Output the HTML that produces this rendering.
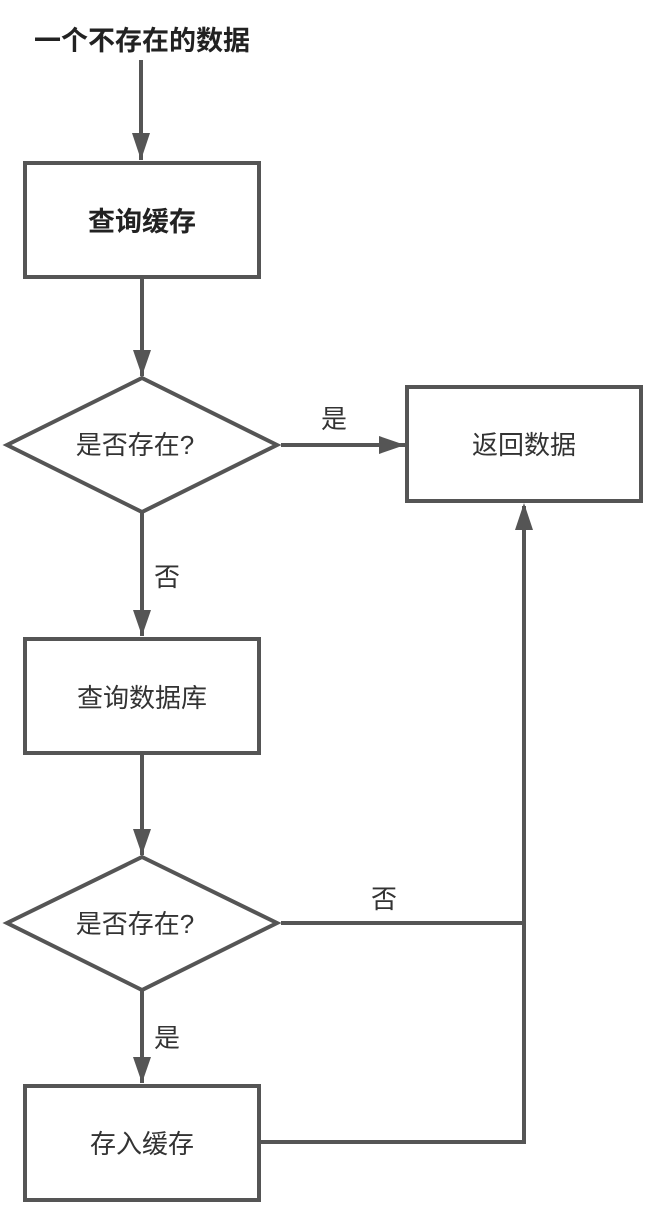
<!DOCTYPE html>
<html><head><meta charset="utf-8"><style>
html,body{margin:0;padding:0;background:#fff;}
svg text{font-family:"Liberation Sans","Noto Sans CJK SC",sans-serif;fill:#333;}
</style></head><body>
<svg width="651" height="1209" viewBox="0 0 651 1209" xmlns="http://www.w3.org/2000/svg">
<g stroke="#555" stroke-width="4" fill="none">
<line x1="141" y1="60" x2="141" y2="160"/>
<path d="M132,133 L150,133 L141,160 Z" fill="#555" stroke="none"/>
<rect x="25" y="163" width="234" height="114"/>
<line x1="142" y1="277" x2="142" y2="376"/>
<path d="M133,350 L151,350 L142,376 Z" fill="#555" stroke="none"/>
<polygon points="142,378 277,445 142,512 7,445"/>
<line x1="281" y1="445" x2="405" y2="445"/>
<path d="M379,436 L379,454 L405,445 Z" fill="#555" stroke="none"/>
<rect x="407" y="387" width="234" height="114"/>
<line x1="142" y1="512" x2="142" y2="636"/>
<path d="M133,610 L151,610 L142,636 Z" fill="#555" stroke="none"/>
<rect x="25" y="639" width="234" height="114"/>
<line x1="142" y1="753" x2="142" y2="855"/>
<path d="M133,829 L151,829 L142,855 Z" fill="#555" stroke="none"/>
<polygon points="142,857 277,923 142,990 7,923"/>
<line x1="281" y1="923" x2="524" y2="923"/>
<line x1="142" y1="990" x2="142" y2="1083"/>
<path d="M133,1057 L151,1057 L142,1083 Z" fill="#555" stroke="none"/>
<rect x="25" y="1086" width="234" height="114"/>
<polyline points="259,1142 524,1142 524,506"/>
<path d="M515,530 L533,530 L524,503 Z" fill="#555" stroke="none"/>
</g>
<text x="142" y="50" font-size="27" font-weight="bold" text-anchor="middle" style="fill:#222">一个不存在的数据</text>
<text x="142" y="231" font-size="27" font-weight="bold" text-anchor="middle" style="fill:#222">查询缓存</text>
<text x="135" y="454" font-size="26" text-anchor="middle">是否存在?</text>
<text x="334" y="428" font-size="26" text-anchor="middle">是</text>
<text x="524" y="454" font-size="26" text-anchor="middle">返回数据</text>
<text x="167" y="586" font-size="26" text-anchor="middle">否</text>
<text x="142" y="707" font-size="26" text-anchor="middle">查询数据库</text>
<text x="135" y="933" font-size="26" text-anchor="middle">是否存在?</text>
<text x="384" y="908" font-size="26" text-anchor="middle">否</text>
<text x="167" y="1047" font-size="26" text-anchor="middle">是</text>
<text x="142" y="1153" font-size="26" text-anchor="middle">存入缓存</text>
</svg>
</body></html>
